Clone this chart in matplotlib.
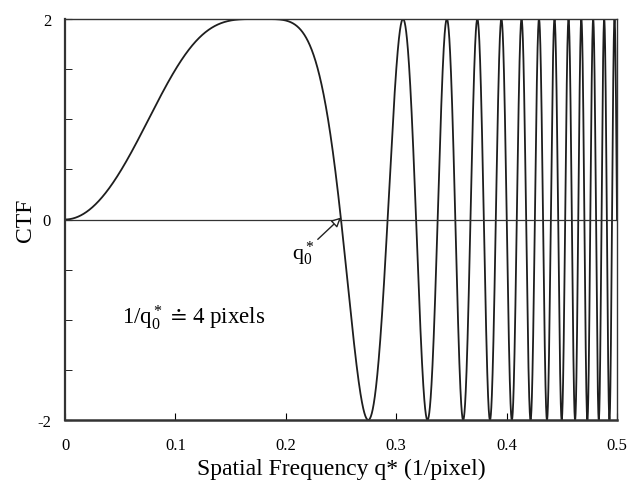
import numpy as np
import matplotlib
matplotlib.use("Agg")
import matplotlib.pyplot as plt

plt.rcParams['font.family'] = ['Liberation Serif', 'DejaVu Serif']
plt.rcParams['mathtext.fontset'] = 'custom'
plt.rcParams['mathtext.rm'] = 'Liberation Serif'
plt.rcParams['mathtext.it'] = 'Liberation Serif:italic'
plt.rcParams['mathtext.bf'] = 'Liberation Serif:bold'

# chart parameters
q0 = 0.25              # first zero of CTF (1/q0 = 4 pixels)
amplitude = 2.0
x_ticks = [0, 0.1, 0.2, 0.3, 0.4, 0.5]
x_ticklabels = ["0", "0.1", "0.2", "0.3", "0.4", "0.5"]
y_ticks = [-2, 0, 2]
y_ticklabels = ["-2", "0", "2"]

q = np.linspace(0, 0.5, 6000)
q1 = q0 / np.sqrt(2)
u = (q / q1) ** 2
chi = (np.pi / 2) * (u ** 2 - 2 * u)
ctf = -amplitude * np.sin(chi)

fig = plt.figure(figsize=(6.3, 4.81), dpi=100)
ax = fig.add_axes([65/630, 1 - 421/481, 552/630, 401/481])
ax.plot(q, ctf, color='#1e1e1e', lw=1.3)
ax.axhline(0, color='#333333', lw=0.9)
ax.set_xlim(0, 0.5)
ax.set_ylim(-2, 2)
ax.set_xticks(x_ticks)
ax.set_xticklabels(x_ticklabels)
ax.set_yticks(y_ticks)
ax.set_yticklabels(y_ticklabels)
ax.set_yticks(np.arange(-2, 2.01, 0.5), minor=True)
ax.tick_params(axis='x', direction='in', length=5, labelsize=12, top=False, pad=12)
ax.tick_params(axis='y', direction='in', length=5, labelsize=12, right=False, pad=10)
ax.tick_params(which='minor', direction='in', length=5, top=False, right=False)
ax.xaxis.set_minor_locator(matplotlib.ticker.NullLocator())
for s in ax.spines.values():
    s.set_color('#333333')
    s.set_linewidth(1.0)
ax.spines['bottom'].set_linewidth(1.8)
ax.spines['left'].set_linewidth(1.6)

ax.set_xlabel("Spatial Frequency q* (1/pixel)", fontsize=17, labelpad=4)
ax.set_ylabel("CTF", fontsize=17, labelpad=1)

ax.annotate(r"q$_0^*$", xy=(q0, 0.02), xytext=(0.206, -0.33), fontsize=16,
            ha='left', va='center',
            arrowprops=dict(arrowstyle='-|>', fc='white', ec='#222222', lw=1.0,
                            mutation_scale=14, shrinkA=0, shrinkB=0))
ax.text(0.052, -0.97, r"1/q$_0^*$$\,\doteq\,$4 pixels", fontsize=16.5, ha='left', va='center')

fig.savefig("out.png", dpi=100)
